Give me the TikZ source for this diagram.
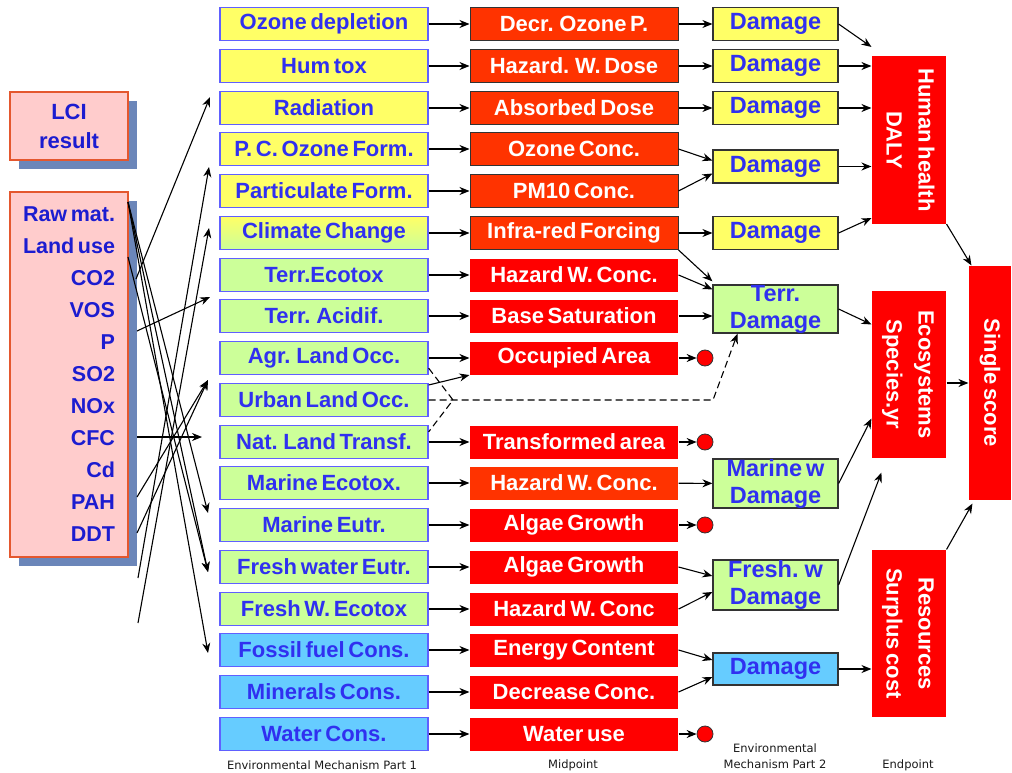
\documentclass[tikz,border=0pt]{standalone}
\usepackage{graphicx}
\usepackage{fontspec}
\setmainfont{Liberation Sans}[WordSpace=0.6]
\newfontfamily\capfont{DejaVu Sans}
\usetikzlibrary{arrows.meta,shadows}

\definecolor{lcipink}{HTML}{FFCCCC}
\definecolor{lciedge}{HTML}{E4572E}
\definecolor{lcishade}{HTML}{6B86B9}
\definecolor{lcitext}{HTML}{1C1CD0}
\definecolor{mechedge}{HTML}{6060FF}
\definecolor{mechtext}{HTML}{3030F0}
\definecolor{hhyellow}{HTML}{FFFF66}
\definecolor{ecogreen}{HTML}{CCFF99}
\definecolor{resblue}{HTML}{66CCFF}
\definecolor{midorange}{HTML}{FF3300}
\definecolor{midred}{HTML}{FF0000}
\definecolor{darkedge}{HTML}{333333}
\definecolor{captext}{HTML}{1A1A1A}

\tikzset{
  lcibox/.style={fill=lcipink,draw=lciedge,line width=1.2pt,text=lcitext,inner sep=0pt,
    drop shadow={shadow xshift=9pt,shadow yshift=-9pt,fill=lcishade,opacity=1}},
  mechbox/.style={draw=mechedge,line width=1.3pt,minimum width=208pt,minimum height=33pt,inner sep=0pt,
    text=mechtext,font=\fontsize{22}{26}\selectfont\bfseries},
  midbox/.style={fill=midred,minimum width=208pt,minimum height=33pt,inner sep=0pt,
    text=white,font=\fontsize{22}{26}\selectfont\bfseries},
  midframe/.style={midbox,fill=midorange,draw=darkedge,line width=1pt},
  dmgbox/.style={fill=hhyellow,draw=darkedge,line width=1.2pt,minimum width=125pt,minimum height=33pt,
    inner sep=0pt,align=center,text=mechtext,font=\fontsize{23.5}{27}\selectfont\bfseries},
  endbox/.style={fill=midred,minimum width=74pt,minimum height=167pt,inner sep=0pt,
    text=white,font=\fontsize{22}{32}\selectfont\bfseries},
  enddot/.style={circle,fill=midred,draw=darkedge,line width=0.8pt,minimum size=16pt,inner sep=0pt},
  colname/.style={text=captext,font=\capfont\fontsize{11.5}{16}\selectfont,align=center,inner sep=0pt}
}

\begin{document}
\begin{tikzpicture}[->,>={Stealth[length=10pt,width=8pt]},line width=1.1pt,x=1pt,y=-1pt]
\useasboundingbox (0,0) rectangle (1012,773);

\node[lcibox,minimum width=118pt,minimum height=68pt,align=center,font=\fontsize{22}{29}\selectfont\bfseries](lci)at(69,126){LCI\\result};
\node[lcibox,minimum width=118pt,minimum height=365pt,align=right,font=\fontsize{21.5}{32}\selectfont\bfseries](inv)at(69,374.5){Raw mat.\\Land use\\CO2\\VOS\\P\\SO2\\NOx\\CFC\\Cd\\PAH\\DDT};

\node[mechbox,fill=hhyellow](od)at(324,24){Ozone depletion};
\node[mechbox,fill=hhyellow](ht)at(324,66){Hum tox};
\node[mechbox,fill=hhyellow](rad)at(324,108){Radiation};
\node[mechbox,fill=hhyellow](pco)at(324,149){P. C. Ozone Form.};
\node[mechbox,fill=hhyellow](pf)at(324,191){Particulate Form.};
\node[mechbox,top color=hhyellow,bottom color=ecogreen](cc)at(324,233){Climate Change};
\node[mechbox,fill=ecogreen](te)at(324,275){Terr.Ecotox};
\node[mechbox,fill=ecogreen](ta)at(324,316){Terr. Acidif.};
\node[mechbox,fill=ecogreen](alo)at(324,358){Agr. Land Occ.};
\node[mechbox,fill=ecogreen](ulo)at(324,400){Urban Land Occ.};
\node[mechbox,fill=ecogreen](nlt)at(324,442){Nat. Land Transf.};
\node[mechbox,fill=ecogreen](me)at(324,483){Marine Ecotox.};
\node[mechbox,fill=ecogreen](meu)at(324,525){Marine Eutr.};
\node[mechbox,fill=ecogreen](fe)at(324,567){Fresh water Eutr.};
\node[mechbox,fill=ecogreen](fwe)at(324,609){Fresh W. Ecotox};
\node[mechbox,fill=resblue](ff)at(324,650){Fossil fuel Cons.};
\node[mechbox,fill=resblue](mc)at(324,692){Minerals Cons.};
\node[mechbox,fill=resblue](wc)at(324,734){Water Cons.};

\node[midframe](m1)at(574,24){Decr. Ozone P.};
\node[midframe](m2)at(574,66){Hazard. W. Dose};
\node[midframe](m3)at(574,108){Absorbed Dose};
\node[midframe](m4)at(574,149){Ozone Conc.};
\node[midframe](m5)at(574,191){PM10 Conc.};
\node[midframe](m6)at(574,233){Infra-red Forcing};
\node[midbox](m7)at(574,275){Hazard W. Conc.};
\node[midbox](m8)at(574,316){Base Saturation};
\node[midbox](m9)at(574,358){Occupied Area};
\node[midbox](m11)at(574,442){Transformed area};
\node[midbox,fill=midorange](m12)at(574,483){Hazard W. Conc.};
\node[midbox](m13)at(574,525){Algae Growth};
\node[midbox](m14)at(574,567){Algae Growth};
\node[midbox](m15)at(574,609){Hazard W. Conc};
\node[midbox](m16)at(574,650){Energy Content};
\node[midbox](m17)at(574,692){Decrease Conc.};
\node[midbox](m18)at(574,734){Water use};

\node[enddot](dot9)at(705,358){};
\node[enddot](dot11)at(705,442){};
\node[enddot](dot13)at(705,525){};
\node[enddot](dot18)at(705,734){};

\node[dmgbox](d1)at(775.5,24){Damage};
\node[dmgbox](d2)at(775.5,66){Damage};
\node[dmgbox](d3)at(775.5,108){Damage};
\node[dmgbox](d45)at(775.5,166.5){Damage};
\node[dmgbox](d6)at(775.5,233){Damage};
\node[dmgbox,fill=ecogreen,minimum height=48pt](terr)at(775.5,309){Terr.\\Damage};
\node[dmgbox,fill=ecogreen,minimum height=49pt](mar)at(775.5,483.5){Marine w\\Damage};
\node[dmgbox,fill=ecogreen,minimum height=50pt](fre)at(775.5,585){Fresh. w\\Damage};
\node[dmgbox,fill=resblue,minimum height=32pt](bd)at(775.5,669){Damage};

\node[endbox](hh)at(909,140){\rotatebox{-90}{\begin{tabular}{@{}c@{}}Human health\\DALY\end{tabular}}};
\node[endbox](eco)at(909,374.5){\rotatebox{-90}{\begin{tabular}{@{}c@{}}Ecosystems\\Species.yr\end{tabular}}};
\node[endbox](res)at(909,633.5){\rotatebox{-90}{\begin{tabular}{@{}c@{}}Resources\\Surplus cost\end{tabular}}};
\node[endbox,minimum width=42pt,minimum height=234pt](single)at(990,383){\rotatebox{-90}{Single score}};

\node[colname](capa)at(322,765){Environmental Mechanism Part 1};
\node[colname](capb)at(573,765){Midpoint};
\node[colname](capc)at(775,756){Environmental\\Mechanism Part 2};
\node[colname](capd)at(908,765){Endpoint};

\coordinate (sraw) at (128,202);
\coordinate (sland) at (128,257);
\coordinate (sco2) at (136,279);
\coordinate (sp) at (137,331);
\coordinate (scfc) at (137,437);
\coordinate (spah) at (137,497);
\coordinate (sddt) at (137,533);
\coordinate (sfree1) at (138,578);
\coordinate (sfree2) at (138,623);
\coordinate (hrad) at (210,97);
\coordinate (hpco) at (209,167);
\coordinate (hcc) at (209,228);
\coordinate (hta) at (210,297);
\coordinate (halo) at (208,380);
\coordinate (hnlt) at (202,437);
\coordinate (hmeu) at (208,513);
\coordinate (hfe) at (208,572);
\coordinate (hff) at (208,653);
\coordinate (jn) at (453,400);
\coordinate (kn) at (713,400);

\path (sco2) edge (hrad)
      (sp) edge (hta)
      (scfc) edge (hnlt)
      (spah) edge (halo)
      (sddt) edge (halo)
      (sfree1) edge (hpco)
      (sfree2) edge (hcc)
      (sraw) edge (hmeu)
      (sraw) edge (hfe)
      (sraw) edge (hff)
      (sland) edge (hfe);

\path (od) edge (m1) (ht) edge (m2) (rad) edge (m3) (pco) edge (m4) (pf) edge (m5) (cc) edge (m6)
      (te) edge (m7) (ta) edge (m8) (alo) edge (m9) (nlt) edge (m11) (me) edge (m12) (meu) edge (m13)
      (fe) edge (m14) (fwe) edge (m15) (ff) edge (m16) (mc) edge (m17) (wc) edge (m18)
      ([yshift=15pt]ulo.east) edge (m9.south west);
\draw[-,dash pattern=on 7pt off 4pt] ([yshift=7pt]alo.south east) -- (jn) -- ([yshift=-7pt]nlt.north east);
\draw[dash pattern=on 7pt off 4pt] (ulo.east) -- (jn) -- (kn) -- ([xshift=-38pt]terr.south);

\path (m1) edge (d1) (m2) edge (d2) (m3) edge (d3)
      (m4.east) edge ([yshift=6pt]d45.west)
      (m5.east) edge ([yshift=-7pt]d45.west)
      (m6) edge (d6)
      (m6.south east) edge ([yshift=3pt]terr.north west)
      (m7.east) edge ([yshift=-5pt]terr.north west)
      (m8.east) edge (terr.west |- m8.east)
      (m9) edge (dot9) (m11) edge (dot11) (m12) edge (mar) (m13) edge (dot13)
      (m14.east) edge ([yshift=9pt]fre.west)
      (m15.east) edge ([yshift=-7pt]fre.west)
      (m16.east) edge ([yshift=9pt]bd.west)
      (m17.east) edge ([yshift=-8pt]bd.west)
      (m18) edge (dot18);

\path (d1.east) edge ([yshift=9pt]hh.north west)
      (d2) edge (hh.west |- d2)
      (d3) edge (hh.west |- d3)
      (d45) edge (hh.west |- d45)
      (d6.east) edge ([yshift=6pt]hh.south west)
      (terr.east) edge ([yshift=-34pt]eco.north west)
      (mar.east) edge ([yshift=40pt]eco.south west)
      (fre.east) edge ([shift={(10pt,-14pt)}]eco.south west)
      (bd) edge (res.west |- bd)
      (hh.south east) edge ([xshift=3pt]single.north west)
      (eco.east |- single.west) edge (single.west)
      (res.north east) edge ([shift={(4pt,-3pt)}]single.south west);
\end{tikzpicture}
\end{document}
